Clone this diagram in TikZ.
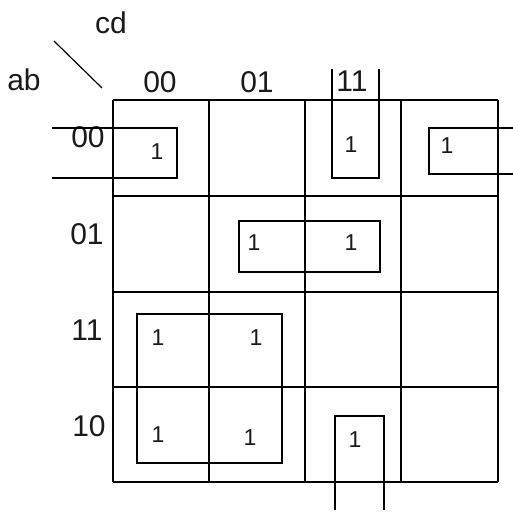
\documentclass[tikz,border=0pt]{standalone}
\usepackage{fontspec}
\setmainfont{Liberation Sans}
\usepackage{tikz}
\usepackage{xcolor}
\definecolor{inkgray}{HTML}{1A1A1A}

\tikzset{
  mapline/.style={line width=1.6pt, color=black},
  headlabel/.style={font=\fontsize{30}{36}\selectfont, color=inkgray, inner sep=0pt},
  cellone/.style={font=\fontsize{23}{27}\selectfont, color=inkgray, inner sep=0pt}
}

\begin{document}
\begin{tikzpicture}[x=1pt, y=-1pt]
  % Background
  \useasboundingbox (0, 0) rectangle (513, 515);
  \fill[white] (0, 0) rectangle (513, 515);

  % Corner labels
  \node[headlabel] (lblcd) at (111, 23) {cd};
  \node[headlabel] (lblab) at (24, 80) {ab};
  \draw[line width=1.2pt] (54, 41) -- (102, 88);

  % Column and row headings
  \node[headlabel] (col00) at (160, 82) {00};
  \node[headlabel] (col01) at (257, 82) {01};
  \node[headlabel] (col11) at (352, 81) {11};
  \node[headlabel] (row00) at (88, 137) {00};
  \node[headlabel] (row01) at (87, 234) {01};
  \node[headlabel] (row11) at (87, 330) {11};
  \node[headlabel] (row10) at (89, 426) {10};

  % Grid
  \foreach \x in {113, 209, 305, 401, 498}
    \draw[mapline] (\x, 100) -- (\x, 482);
  \foreach \y in {100, 196, 292, 387, 482}
    \draw[mapline] (113, \y) -- (498, \y);

  % Ones
  \node[cellone] (oneA) at (157, 152) {1};
  \node[cellone] (oneB) at (351, 145) {1};
  \node[cellone] (oneC) at (447, 146) {1};
  \node[cellone] (oneD) at (254, 243) {1};
  \node[cellone] (oneE) at (351, 243) {1};
  \node[cellone] (oneF) at (158, 338) {1};
  \node[cellone] (oneG) at (256, 338) {1};
  \node[cellone] (oneH) at (158, 435) {1};
  \node[cellone] (oneI) at (250, 438) {1};
  \node[cellone] (oneJ) at (355, 440) {1};

  % Groupings
  \draw[mapline] (52, 128) -- (177, 128) -- (177, 178) -- (52, 178);
  \draw[mapline] (513, 128) -- (429, 128) -- (429, 174) -- (513, 174);
  \draw[mapline] (332, 69) -- (332, 178) -- (379, 178) -- (379, 69);
  \draw[mapline] (335, 510) -- (335, 416) -- (384, 416) -- (384, 510);
  \draw[mapline] (239, 221) rectangle (380, 272);
  \draw[mapline] (137, 314) rectangle (282, 463);

\end{tikzpicture}
\end{document}
